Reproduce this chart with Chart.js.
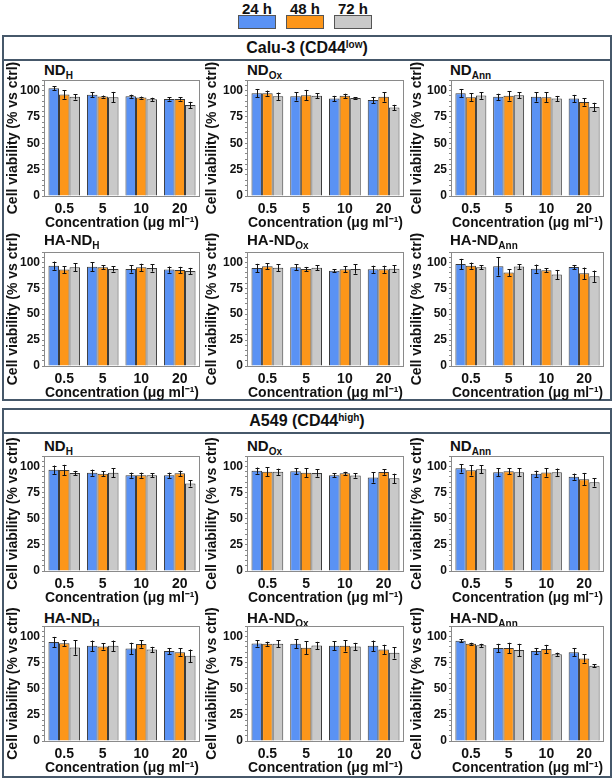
<!DOCTYPE html>
<html><head><meta charset="utf-8">
<script src="https://cdn.jsdelivr.net/npm/chart.js@4"></script>
<style>
body{margin:0;background:#fff;font-family:'Liberation Sans',Arial,sans-serif;}
#root{position:relative;width:614px;height:780px;overflow:hidden;background:#fff;}
.box{position:absolute;border:2px solid #46586a;box-sizing:border-box;}
.hdr{position:absolute;left:0;right:0;top:0;height:24px;border-bottom:2px solid #46586a;box-sizing:border-box;text-align:center;font-weight:bold;font-size:16px;line-height:22px;color:#111;}
.hdr sup{font-size:10px;vertical-align:5px;line-height:0;}
.ptitle{position:absolute;font-weight:bold;font-size:15px;line-height:18px;white-space:nowrap;color:#111;}
.ptitle sub{font-size:10px;vertical-align:-4px;line-height:0;}
.leg{position:absolute;text-align:center;font-weight:bold;font-size:15px;line-height:15px;color:#111;}
.legbox{position:absolute;box-sizing:border-box;border:1px solid #555;}
canvas{position:absolute;}
</style></head>
<body>
<div id="root"></div>
<script>
// ---------- DATA ----------
const concentrations = ['0.5', '5', '10', '20'];
const timeLabels = ['24 h', '48 h', '72 h'];
const yTickLabels = [0, 25, 50, 75, 100];
const cellLines = ['Calu-3 (CD44<sup>low</sup>)', 'A549 (CD44<sup>high</sup>)'];
const panelNames = ['ND<sub>H</sub>', 'ND<sub>Ox</sub>', 'ND<sub>Ann</sub>', 'HA-ND<sub>H</sub>', 'HA-ND<sub>Ox</sub>', 'HA-ND<sub>Ann</sub>'];

// Calu-3 : [24 h], [48 h], [72 h] ; one value per concentration
const calu3_NDH_mean = [[102.2, 96, 94.6, 92], [96.2, 94.3, 93.3, 92], [94, 93.7, 91.7, 86.3]];
const calu3_NDH_sd = [[2, 2.5, 1.5, 1.5], [4, 1, 1, 1.5], [2.5, 5, 1.5, 3]];
const calu3_NDOx_mean = [[97.5, 94.5, 92.5, 91], [97.5, 95.6, 95, 94], [94.6, 95, 93, 84]];
const calu3_NDOx_sd = [[4, 4, 2.5, 3], [2.5, 5, 2, 4.5], [3.5, 2.5, 0.7, 2.5]];
const calu3_NDAnn_mean = [[97.5, 94, 94, 92.4], [93.7, 95, 93.7, 89.2], [95.2, 95.6, 92.4, 84.4]];
const calu3_NDAnn_sd = [[4, 3, 4.5, 3.5], [3.5, 4.5, 4.5, 3.5], [3, 3, 2.5, 4]];
const calu3_HANDH_mean = [[96.8, 95.8, 93.6, 93], [93, 95.2, 95.2, 92.7], [95.2, 93.6, 94.6, 91.7]];
const calu3_HANDH_sd = [[4, 4.5, 3.5, 3], [3.5, 2, 3.5, 3], [4, 2.5, 3.5, 3]];
const calu3_HANDOx_mean = [[94.6, 95.2, 92, 93.3], [96.2, 93.6, 93.3, 93.3], [94.9, 94.9, 93.6, 93.9]];
const calu3_HANDOx_sd = [[4, 3, 1.5, 3.5], [3, 2, 3, 3.5], [3.5, 2.5, 4.5, 3.5]];
const calu3_HANDAnn_mean = [[98.4, 96.2, 93.9, 95.5], [96.8, 90.1, 92.3, 89.5], [95.2, 95.9, 88.2, 86.6]];
const calu3_HANDAnn_sd = [[5, 9, 4, 2], [3, 3.5, 2, 5.5], [2, 2.5, 4.5, 5.5]];

// A549
const a549_NDH_mean = [[96.9, 94, 91.6, 91.6], [96.6, 93.1, 91.6, 93.4], [93.8, 94, 91.6, 83.8]];
const a549_NDH_sd = [[4, 3, 2.5, 2.5], [5, 2.5, 2.5, 2.5], [2, 4.5, 2, 3]];
const a549_NDOx_mean = [[96, 95.5, 91.6, 89.5], [94.9, 94, 93.4, 94.6], [94.9, 93.7, 91.3, 88.6]];
const a549_NDOx_sd = [[3, 3, 2, 5], [4.5, 4.5, 1.5, 2.5], [3, 3.5, 2, 4.5]];
const a549_NDAnn_mean = [[98.2, 94.5, 93, 90.2], [96.3, 95.4, 94.2, 87.8], [97.3, 94.5, 94.5, 84.8]];
const a549_NDAnn_sd = [[4, 4, 3, 3], [5, 3, 4, 6], [4, 4, 3.5, 4]];
const a549_HANDH_mean = [[94.6, 91.1, 88.5, 86], [93.6, 90.4, 92.7, 85], [89.5, 91.1, 87.6, 81.5]];
const a549_HANDH_sd = [[5, 5, 5.5, 3], [3, 3, 3.5, 3.5], [7, 5, 2.5, 6]];
const a549_HANDOx_mean = [[93.3, 93, 91.1, 91.1], [93, 89.2, 91.1, 87.6], [93, 91.4, 90.4, 84.4]];
const a549_HANDOx_sd = [[3, 4.5, 4.5, 5], [2, 6, 5.5, 4.5], [3.5, 3.5, 3.5, 5.5]];
const a549_HANDAnn_mean = [[96, 89, 86, 85], [93, 89, 88, 79], [91.5, 87, 83, 72]];
const a549_HANDAnn_sd = [[1.5, 4, 3, 4], [1, 5, 4, 4], [1.5, 6, 1.5, 1.5]];

// ---------- LAYOUT / STYLE ----------
const FONT = "'Liberation Sans', Arial, sans-serif";
const barColors = ['#5a92f4', '#fd9619', '#c9c9c9'];
const cols = [{pl: 45, pw: 154, yw: 40, tl: 44}, {pl: 248, pw: 155, yw: 44, tl: 247}, {pl: 452, pw: 151, yw: 43, tl: 450}];
const rows = [{pt: 80, ph: 116, tc: 70}, {pt: 252, ph: 114, tc: 240}, {pt: 456, ph: 115, tc: 446}, {pt: 626, ph: 115, tc: 618}];

const root = document.getElementById('root');
function el(tag, cls, style, html) {
  const e = document.createElement(tag);
  if (cls) e.className = cls;
  Object.assign(e.style, style);
  if (html !== undefined) e.innerHTML = html;
  root.appendChild(e);
  return e;
}

// legend
const legX = [238, 286, 334];
timeLabels.forEach((t, i) => {
  el('div', 'leg', {left: legX[i] + 'px', top: '1px', width: '38px'}, t);
  el('div', 'legbox', {left: legX[i] + 'px', top: '15px', width: '38px', height: '14px', background: barColors[i]});
});

// boxes
const boxes = [{top: 35, h: 366}, {top: 408, h: 370}];
boxes.forEach((b, i) => {
  const bx = el('div', 'box', {left: '2px', top: b.top + 'px', width: '610px', height: b.h + 'px'});
  const h = document.createElement('div');
  h.className = 'hdr';
  h.innerHTML = cellLines[i];
  bx.appendChild(h);
});

const errorBars = {
  id: 'errorBars',
  afterDatasetsDraw(chart) {
    const ctx = chart.ctx;
    const ys = chart.scales.y;
    ctx.save();
    ctx.strokeStyle = '#111';
    ctx.lineWidth = 1;
    chart.data.datasets.forEach((ds, di) => {
      const meta = chart.getDatasetMeta(di);
      meta.data.forEach((bar, i) => {
        const v = ds.data[i], e = ds.errors[i];
        const x = Math.round(bar.x) + 0.5;
        const y1 = ys.getPixelForValue(v + e), y2 = ys.getPixelForValue(v - e);
        ctx.beginPath();
        ctx.moveTo(x, y1); ctx.lineTo(x, y2);
        ctx.moveTo(x - 2, Math.round(y1) + 0.5); ctx.lineTo(x + 2, Math.round(y1) + 0.5);
        ctx.moveTo(x - 2, Math.round(y2) + 0.5); ctx.lineTo(x + 2, Math.round(y2) + 0.5);
        ctx.stroke();
      });
    });
    ctx.restore();
  }
};
const frame = {
  id: 'frame',
  afterDatasetsDraw(chart) {
    const a = chart.chartArea, ctx = chart.ctx;
    ctx.save();
    ctx.strokeStyle = '#8a8a8a';
    ctx.lineWidth = 1;
    ctx.strokeRect(Math.round(a.left) - 0.5, Math.round(a.top) + 0.5, Math.round(a.right - a.left) + 1, Math.round(a.bottom - a.top));
    ctx.restore();
  }
};

function makePanel(r, c, name, means, sds) {
  const R = rows[r], C = cols[c];
  el('div', 'ptitle', {left: C.tl + 'px', top: (R.tc - 9) + 'px'}, name);
  const padTop = 24, xh = 36, padRight = 6;
  const cv = document.createElement('canvas');
  const W = C.yw + C.pw + padRight, H = padTop + R.ph + xh;
  cv.width = W; cv.height = H;
  cv.style.left = (C.pl - C.yw) + 'px';
  cv.style.top = (R.pt - padTop) + 'px';
  cv.style.width = W + 'px'; cv.style.height = H + 'px';
  root.appendChild(cv);
  new Chart(cv, {
    type: 'bar',
    data: {
      labels: concentrations,
      datasets: means.map((m, i) => ({
        label: timeLabels[i], data: m, errors: sds[i],
        backgroundColor: barColors[i], borderColor: '#3a3a3a', borderWidth: 1,
        barPercentage: 1.0, categoryPercentage: 0.82
      }))
    },
    options: {
      responsive: false, animation: false, devicePixelRatio: 1,
      layout: {padding: {top: padTop, right: padRight, left: 0, bottom: 0}},
      plugins: {legend: {display: false}, tooltip: {enabled: false}, title: {display: false}},
      scales: {
        x: {
          grid: {display: false, drawTicks: false}, border: {display: false},
          ticks: {padding: 5, color: '#111', font: {family: FONT, weight: 'bold', size: 14}},
          title: {display: true, text: 'Concentration (μg ml⁻¹)', color: '#111', padding: 0, font: {family: FONT, weight: 'bold', size: 14}},
          afterFit(s) { s.height = xh; }
        },
        y: {
          min: 0, max: 110,
          grid: {display: true, drawOnChartArea: false, drawTicks: true, tickLength: 3, color: '#888'},
          border: {display: false},
          ticks: {stepSize: 5, autoSkip: false, padding: 2, color: '#111',
            font: {family: FONT, weight: 'bold', size: 12},
            callback: v => yTickLabels.includes(v) ? String(v) : ''},
          title: {display: true, text: 'Cell viability (% vs ctrl)', color: '#111', padding: 0, font: {family: FONT, weight: 'bold', size: 14}},
          afterFit(s) { s.width = C.yw; }
        }
      }
    },
    plugins: [frame, errorBars]
  });
}

const calu3Means = [calu3_NDH_mean, calu3_NDOx_mean, calu3_NDAnn_mean, calu3_HANDH_mean, calu3_HANDOx_mean, calu3_HANDAnn_mean];
const calu3Sds = [calu3_NDH_sd, calu3_NDOx_sd, calu3_NDAnn_sd, calu3_HANDH_sd, calu3_HANDOx_sd, calu3_HANDAnn_sd];
const a549Means = [a549_NDH_mean, a549_NDOx_mean, a549_NDAnn_mean, a549_HANDH_mean, a549_HANDOx_mean, a549_HANDAnn_mean];
const a549Sds = [a549_NDH_sd, a549_NDOx_sd, a549_NDAnn_sd, a549_HANDH_sd, a549_HANDOx_sd, a549_HANDAnn_sd];

for (let k = 0; k < 6; k++) {
  makePanel(Math.floor(k / 3), k % 3, panelNames[k], calu3Means[k], calu3Sds[k]);
  makePanel(2 + Math.floor(k / 3), k % 3, panelNames[k], a549Means[k], a549Sds[k]);
}
</script>
</body></html>
